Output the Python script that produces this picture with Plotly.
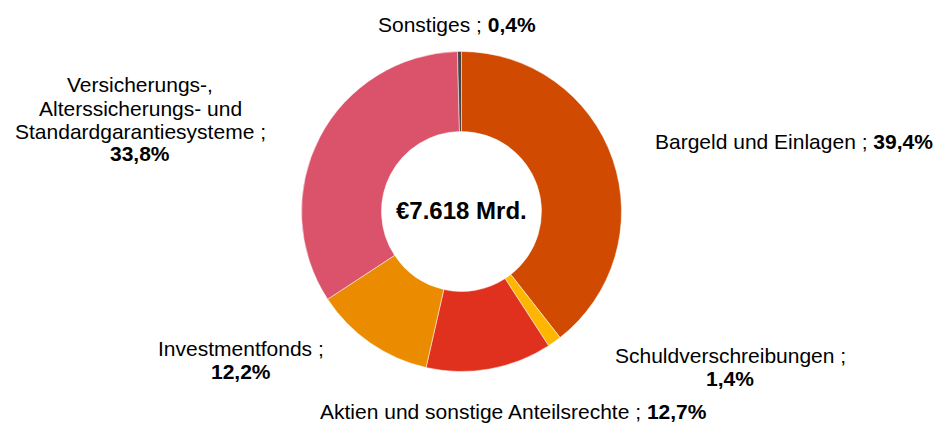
import plotly.graph_objects as go

categories = ["Bargeld und Einlagen", "Schuldverschreibungen", "Aktien und sonstige Anteilsrechte",
              "Investmentfonds", "Versicherungs-, Alterssicherungs- und Standardgarantiesysteme", "Sonstiges"]
values = [39.4, 1.4, 12.7, 12.2, 33.8, 0.4]
value_labels = ["39,4%", "1,4%", "12,7%", "12,2%", "33,8%", "0,4%"]
colors = ["#D04A02", "#FFB600", "#E0301E", "#EB8C00", "#DB536A", "#464646"]
total_label = "€7.618 Mrd."

# label line breaks (text lines per category); last line gets the bold value
label_lines = [
    ["Bargeld und Einlagen ; {v}"],
    ["Schuldverschreibungen ;", "{v}"],
    ["Aktien und sonstige Anteilsrechte ; {v}"],
    ["Investmentfonds ;", "{v}"],
    ["Versicherungs-,", "Alterssicherungs- und", "Standardgarantiesysteme ;", "{v}"],
    ["Sonstiges ; {v}"],
]
# label anchor (center x, first-line center y) in page pixels
label_pos = [(794, 141), (730, 355), (513, 411), (241, 348), (140, 85), (457, 24)]
line_gap = 23

W, H = 935, 425
cx, cy, R = 461.5, 211.5, 160

fig = go.Figure(go.Pie(
    labels=categories, values=values, sort=False, direction="clockwise", rotation=0,
    hole=0.5, marker=dict(colors=colors, line=dict(color="white", width=0.5)),
    textinfo="none", hoverinfo="label+percent", showlegend=False,
    domain=dict(x=[(cx - R) / W, (cx + R) / W], y=[(H - cy - R) / H, (H - cy + R) / H]),
))

font = dict(family="Liberation Sans, Arial, sans-serif", size=21, color="black")
anns = []
for lines, v, (x, y) in zip(label_lines, value_labels, label_pos):
    for i, ln in enumerate(lines):
        txt = ln.replace("{v}", "<b>" + v + "</b>")
        anns.append(dict(x=x / W, y=1 - (y + i * line_gap) / H, xref="paper", yref="paper",
                         text=txt, showarrow=False, font=font, xanchor="center", yanchor="middle"))
anns.append(dict(x=cx / W, y=1 - 210 / H, xref="paper", yref="paper", text="<b>" + total_label + "</b>",
                 showarrow=False, font=dict(family="Liberation Sans, Arial, sans-serif", size=24, color="black"),
                 xanchor="center", yanchor="middle"))

fig.update_layout(width=W, height=H, margin=dict(l=0, r=0, t=0, b=0),
                  paper_bgcolor="white", plot_bgcolor="white", annotations=anns)
fig.write_html("out.html", config={"displayModeBar": False},
               post_script="document.body.style.margin='0';document.body.style.overflow='hidden';")
